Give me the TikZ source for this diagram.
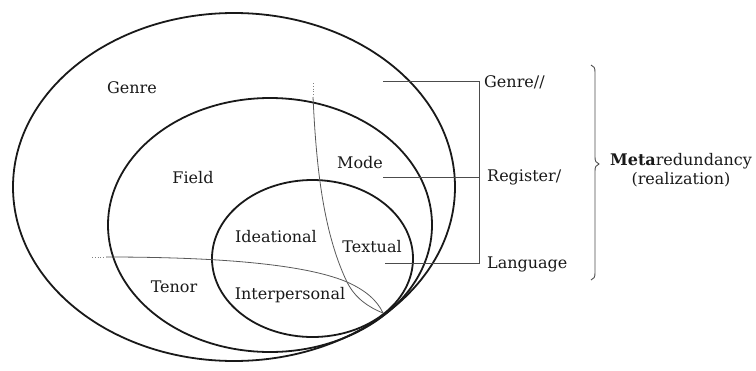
\documentclass[tikz,border=0pt]{standalone}
\usepackage{fontspec}
\setmainfont{DejaVu Serif}
\begin{document}
\begin{tikzpicture}[x=1pt,y=-1pt,
  ring/.style={draw=black!90, line width=1.8pt},
  thin/.style={draw=black!65, line width=0.8pt},
  dotline/.style={draw=black!50, line width=0.8pt, dotted},
  brk/.style={draw=black!70, line width=0.9pt},
  lbl/.style={inner sep=0pt, text=black!90, font=\fontsize{16}{18}\selectfont},
  side/.style={lbl, anchor=west}]
\useasboundingbox (0,0) rectangle (756,370);
% nested strata
\draw[ring] (234,187) ellipse [x radius=221pt, y radius=174pt];
\draw[ring] (270,225) ellipse [x radius=162pt, y radius=127pt];
\draw[ring] (312.5,258.5) ellipse [x radius=100.5pt, y radius=78.5pt];
% dividing curves
\coordinate (vtop) at (313,83);
\coordinate (vstart) at (313,97);
\coordinate (htop) at (92,257);
\coordinate (hstart) at (106,257);
\coordinate (cross) at (347,282);
\coordinate (tip) at (383,313);
\draw[dotline] (vtop) -- (vstart);
\draw[dotline] (htop) -- (hstart);
\draw[thin] (vstart) .. controls (316,160) and (322,230) .. (cross)
  .. controls (355,298) and (368,307) .. (tip);
\draw[thin] (hstart) .. controls (200,257) and (300,262) .. (cross)
  .. controls (365,290) and (377,300) .. (tip);
% labels inside
\node[lbl] (genreIn) at (132,88) {Genre};
\node[lbl] (field) at (193,178) {Field};
\node[lbl] (mode) at (360,163) {Mode};
\node[lbl] (ideational) at (276,237) {Ideational};
\node[lbl] (textual) at (372,247) {Textual};
\node[lbl] (tenor) at (174,287) {Tenor};
\node[lbl] (interpersonal) at (290,295) {Interpersonal};
% bracket of strata
\coordinate (gL) at (383,81);
\coordinate (gR) at (479,81);
\coordinate (rL) at (383,177);
\coordinate (rR) at (479,177);
\coordinate (lL) at (385,263);
\coordinate (lR) at (479,263);
\draw[brk] (gL) -- (gR) -- (lR) -- (lL);
\draw[brk] (rL) -- (rR);
\node[side] (genreOut) at (484,82) {Genre//};
\node[side] (register) at (487,177) {Register/};
\node[side] (language) at (487,264) {Language};
% brace
\coordinate (bTop) at (591,65);
\coordinate (bTip) at (599,164);
\coordinate (bBot) at (591,280);
\draw[brk] (bTop) .. controls (594,66) and (595,68) .. (595,72) -- (595,157)
  .. controls (595,161) and (596,163) .. (bTip)
  .. controls (596,165) and (595,167) .. (595,171) -- (595,273)
  .. controls (595,277) and (594,279) .. (bBot);
\node[lbl] (meta) at (681,161) {\textbf{Meta}redundancy};
\node[lbl] (real) at (681,180) {(realization)};
\end{tikzpicture}
\end{document}
